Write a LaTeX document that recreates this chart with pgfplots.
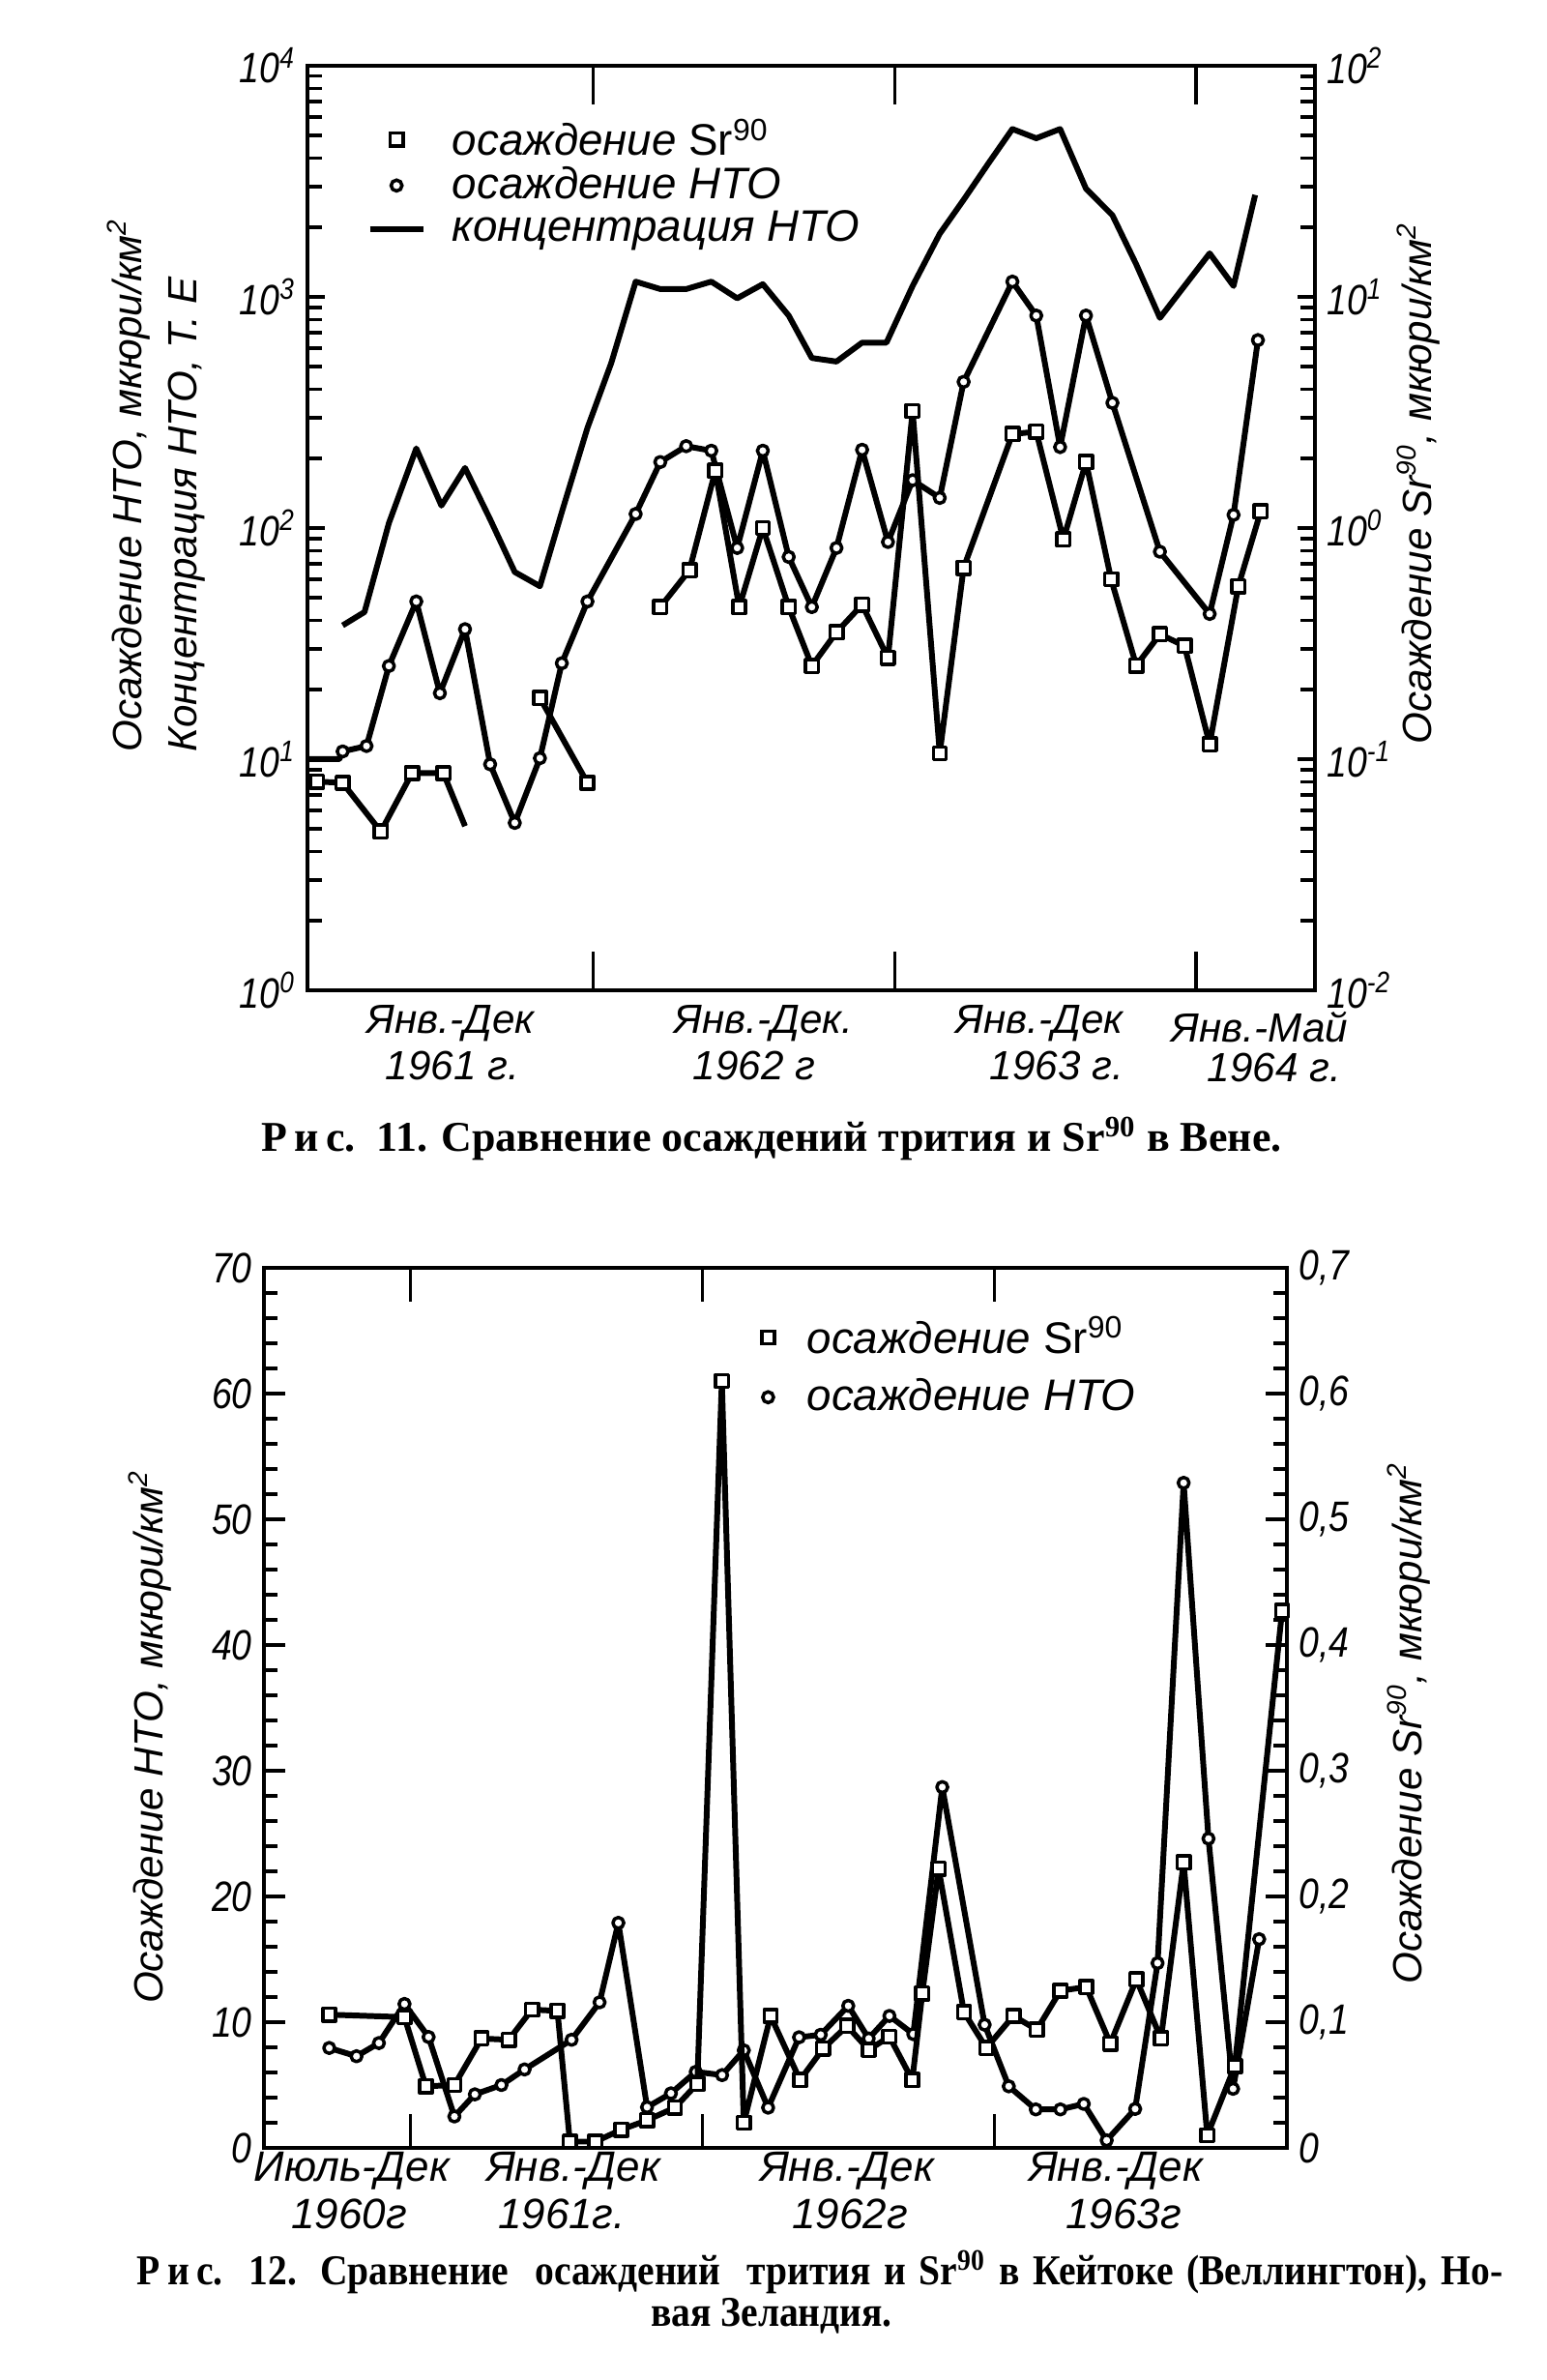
\documentclass[border=0pt]{standalone}
\usepackage{pgfplots}
\pgfplotsset{compat=1.18}
\usepackage{fontspec}
\setmainfont{Liberation Sans}
\newfontfamily\tickfont{Liberation Sans}[FakeStretch=0.85]
\newfontfamily\capfont{Liberation Serif}
\newfontfamily\capfontb{Liberation Serif}[FakeStretch=0.9]
\pgfplotsset{
  base/.style={scale only axis, axis line style={line width=1.3pt}, tick style={black,line width=0.9pt},
    tick align=inside, ticklabel style={font=\tickfont\itshape\fontsize{12.5}{12.5}\selectfont},
    /pgf/number format/assume math mode=true, clip=false},
  ln/.style={black, line width=1.7pt, line join=round},
  sq/.style={mark=square*, mark size=1.9pt, mark options={solid, fill=white, draw=black, line width=1pt}},
  ci/.style={mark=*, mark size=1.6pt, mark options={solid, fill=white, draw=black, line width=1pt}},
  markleg/.style 2 args={legend image code/.code={\draw[##1] plot coordinates {(#1,0cm)};\path[draw=none,fill=none] (0cm,0cm) -- (#2,0cm);}},
  lineleg/.style 2 args={legend image code/.code={\draw[##1] (0cm,0cm) -- (#1,0cm);\path[draw=none,fill=none] (0cm,0cm) -- (#2,0cm);}},
}
\begin{document}
\begin{tikzpicture}
\path[use as bounding box] (0,0) rectangle (16,24.61);
% ================= TOP CHART =================
\begin{axis}[base, at={(3.18cm,14.37cm)}, anchor=south west, width=10.42cm, height=9.56cm,
  xmin=0.64, xmax=40.73, ymode=log, ymin=1, ymax=10000,
  xtick=\empty, minor xtick={1,...,40}, extra x ticks={12,24,36}, extra x tick labels={},
  extra x tick style={major tick length=0.4cm},
  ytick={1,10,100,1000,10000},
  yticklabels={{10\textsuperscript{0}},{10\textsuperscript{1}},{10\textsuperscript{2}},{10\textsuperscript{3}},{10\textsuperscript{4}}},
  minor ytick={2,3,4,5,6,7,8,9,20,30,40,50,60,70,80,90,200,300,400,500,600,700,800,900,2000,3000,4000,5000,6000,7000,8000,9000},
  ytick pos=left, major tick length=0.18cm, minor tick length=0.15cm]
% HTO deposition (circles)
\addplot[ln] coordinates {(0.64,10)(1.91,10)(2.04,10.8)};
\addplot[ln, ci] coordinates {(2.04,10.8)(2.99,11.4)(3.88,25.3)(4.97,48.1)(5.91,19.3)(6.91,36.5)(7.91,9.5)(8.89,5.3)(9.89,10.1)(10.76,26.0)(11.78,48.1)(13.70,115)(14.68,193)(15.71,226)(16.71,216)(17.74,82)(18.76,216)(19.79,75)(20.71,45.5)(21.69,82)(22.71,218)(23.74,87)(24.72,161)(25.80,135)(26.75,429)(28.69,1164)(29.64,830)(30.59,224)(31.62,830)(32.67,348)(34.56,79)(36.54,42.5)(37.49,114)(38.46,650)};
% HTO concentration (line)
\addplot[ln] coordinates {(2.04,37.9)(2.91,43.3)(3.88,105)(4.97,221)(5.97,125)(6.91,182)(7.91,109)(8.89,64.5)(9.89,56)(10.76,117)(11.78,271)(12.73,518)(13.70,1164)(14.68,1081)(15.71,1081)(16.71,1164)(17.74,986)(18.76,1135)(19.79,830)(20.71,544)(21.69,525)(22.71,634)(23.68,634)(24.72,1115)(25.80,1876)(26.75,2630)(27.75,3800)(28.69,5325)(29.64,4855)(30.59,5325)(31.62,2937)(32.67,2256)(33.62,1381)(34.56,811)(35.54,1115)(36.54,1543)(37.49,1115)(38.35,2761)};
\end{axis}
\begin{axis}[base, at={(3.18cm,14.37cm)}, anchor=south west, width=10.42cm, height=9.56cm,
  xmin=0.64, xmax=40.73, hide x axis, axis y line*=right, ymode=log, ymin=0.01, ymax=100,
  ytick={0.01,0.1,1,10,100},
  yticklabels={{10\textsuperscript{-2}},{10\textsuperscript{-1}},{10\textsuperscript{0}},{10\textsuperscript{1}},{10\textsuperscript{2}}},
  minor ytick={0.02,0.03,0.04,0.05,0.06,0.07,0.08,0.09,0.2,0.3,0.4,0.5,0.6,0.7,0.8,0.9,2,3,4,5,6,7,8,9,20,30,40,50,60,70,80,90},
  major tick length=0.18cm, minor tick length=0.15cm,
  legend style={at={(0.0585,0.949)}, anchor=north west, draw=none, fill=none, inner sep=0pt,
    row sep=-1pt, font=\itshape\fontsize{13}{13}\selectfont, legend cell align=left,
    nodes={inner sep=1.5pt}}]
% Sr-90 deposition (squares)
\addplot[ln, sq, mark indices={1,2,3,4,5}, forget plot] coordinates {(1.02,0.080)(2.04,0.079)(3.56,0.0486)(4.80,0.087)(6.05,0.087)(6.91,0.0513)};
\addplot[ln, sq, forget plot] coordinates {(9.89,0.184)(11.78,0.079)};
\addplot[ln, sq, forget plot] coordinates {(14.68,0.455)(15.84,0.657)(16.87,1.77)(17.82,0.455)(18.76,1.00)(19.79,0.455)(20.71,0.253)(21.69,0.354)(22.71,0.466)(23.74,0.274)(24.72,3.21)(25.80,0.106)(26.75,0.673)(28.69,2.55)(29.64,2.61)(30.72,0.893)(31.62,1.93)(32.62,0.60)(33.62,0.254)(34.56,0.347)(35.54,0.309)(36.54,0.116)(37.68,0.56)(38.57,1.18)};
\addlegendimage{only marks, sq, markleg={0.275cm}{0.8cm}}
\addlegendentry{осаждение {\upshape Sr\textsuperscript{90}}}
\addlegendimage{only marks, ci, markleg={0.275cm}{0.8cm}}
\addlegendentry{осаждение НТО}
\addlegendimage{ln, lineleg={0.55cm}{0.8cm}}
\addlegendentry{концентрация НТО}
\end{axis}
% top labels
\node[rotate=90, anchor=west, font=\itshape\fontsize{12}{12}\selectfont] at (1.33,16.71) {Осаждение НТО, мкюри/км\textsuperscript{2}};
\node[rotate=90, anchor=west, font=\itshape\fontsize{12}{12}\selectfont] at (1.93,16.71) {Концентрация НТО, Т. Е};
\node[rotate=90, font=\itshape\fontsize{12}{12}\selectfont] at (14.67,19.61) {Осаждение Sr\textsuperscript{90}, мкюри/км\textsuperscript{2}};
\begin{scope}[every node/.style={font=\itshape\fontsize{12}{12}\selectfont}]
\node at (4.66,14.03) {Янв.-Дек}; \node at (4.68,13.59) {1961 г.};
\node at (7.90,14.03) {Янв.-Дек.}; \node at (7.80,13.59) {1962 г};
\node at (10.75,14.03) {Янв.-Дек}; \node at (10.93,13.59) {1963 г.};
\node at (13.03,13.99) {Янв.-Май}; \node at (13.18,13.57) {1964 г.};
\end{scope}
\node[anchor=base, font=\capfont\bfseries\fontsize{12.5}{12.5}\selectfont] at (7.98,12.70) {Р\,и\,с.\ \ 11. Сравнение осаждений трития и Sr\textsuperscript{90} в Вене.};
% ================= BOTTOM CHART =================
\begin{axis}[base, at={(2.73cm,2.40cm)}, anchor=south west, width=10.58cm, height=9.10cm,
  xmin=6, xmax=48, ymin=0, ymax=70,
  xtick=\empty, minor xtick={7,...,47}, extra x ticks={12,24,36}, extra x tick labels={},
  extra x tick style={major tick length=0.35cm},
  ytick={0,10,...,70}, minor ytick={2,4,6,8,12,14,16,18,22,24,26,28,32,34,36,38,42,44,46,48,52,54,56,58,62,64,66,68},
  ytick pos=left, major tick length=0.22cm, minor tick length=0.14cm]
\addplot[ln, ci] coordinates {(8.68,7.95)(9.80,7.29)(10.72,8.34)(11.77,11.45)(12.76,8.82)(13.82,2.5)(14.66,4.26)(15.75,5.0)(16.70,6.24)(18.63,8.6)(19.78,11.58)(20.55,17.9)(21.73,3.24)(22.71,4.34)(23.73,6.05)(24.81,5.79)(25.70,7.76)(26.70,3.2)(27.97,8.8)(28.86,9.0)(29.99,11.3)(30.83,8.7)(31.68,10.5)(32.66,9.05)(33.85,28.7)(35.59,9.8)(36.58,4.9)(37.69,3.06)(38.70,3.06)(39.66,3.5)(40.6,0.6)(41.77,3.1)(42.69,14.7)(43.76,52.9)(44.78,24.6)(45.79,4.7)(46.86,16.6)};
\end{axis}
\begin{axis}[base, at={(2.73cm,2.40cm)}, anchor=south west, width=10.58cm, height=9.10cm,
  xmin=6, xmax=48, ymin=0, ymax=0.7, hide x axis, axis y line*=right,
  ytick={0,0.1,0.2,0.3,0.4,0.5,0.6,0.7}, yticklabels={0,{0,1},{0,2},{0,3},{0,4},{0,5},{0,6},{0,7}},
  minor ytick={0.02,0.04,0.06,0.08,0.12,0.14,0.16,0.18,0.22,0.24,0.26,0.28,0.32,0.34,0.36,0.38,0.42,0.44,0.46,0.48,0.52,0.54,0.56,0.58,0.62,0.64,0.66,0.68},
  major tick length=0.22cm, minor tick length=0.14cm,
  legend style={at={(0.478,0.951)}, anchor=north west, draw=none, fill=none, inner sep=0pt,
    row sep=3pt, font=\itshape\fontsize{13}{13}\selectfont, legend cell align=left,
    nodes={inner sep=1.5pt}}]
\addplot[ln, sq, forget plot] coordinates {(8.68,0.106)(11.77,0.104)(12.65,0.049)(13.82,0.050)(14.93,0.087)(16.05,0.086)(17.0,0.110)(18.05,0.109)(18.56,0.005)(19.61,0.005)(20.67,0.0145)(21.73,0.022)(22.87,0.032)(23.79,0.051)(24.8,0.61)(25.70,0.020)(26.8,0.105)(28.01,0.054)(28.96,0.079)(29.94,0.097)(30.83,0.078)(31.68,0.0885)(32.62,0.054)(33.03,0.123)(33.70,0.222)(34.74,0.108)(35.66,0.0795)(36.77,0.105)(37.73,0.094)(38.70,0.125)(39.76,0.128)(40.75,0.083)(41.82,0.134)(42.83,0.087)(43.76,0.227)(44.73,0.010)(45.86,0.065)(47.8,0.427)};
\addlegendimage{only marks, sq, markleg={0.15cm}{0.5cm}}
\addlegendentry{осаждение {\upshape Sr\textsuperscript{90}}}
\addlegendimage{only marks, ci, markleg={0.15cm}{0.5cm}}
\addlegendentry{осаждение НТО}
\end{axis}
\node[rotate=90, font=\itshape\fontsize{12}{12}\selectfont] at (1.55,6.65) {Осаждение НТО, мкюри/км\textsuperscript{2}};
\node[rotate=90, font=\itshape\fontsize{12}{12}\selectfont] at (14.57,6.79) {Осаждение Sr\textsuperscript{90}, мкюри/км\textsuperscript{2}};
\begin{scope}[every node/.style={font=\itshape\fontsize{12.5}{12.5}\selectfont}]
\node at (3.64,2.16) {Июль-Дек}; \node at (3.61,1.72) {1960г};
\node at (5.93,2.16) {Янв.-Дек}; \node at (5.81,1.72) {1961г.};
\node at (8.76,2.16) {Янв.-Дек}; \node at (8.79,1.72) {1962г};
\node at (11.54,2.16) {Янв.-Дек}; \node at (11.62,1.72) {1963г};
\end{scope}
\node[anchor=base west, inner sep=0pt, font=\capfontb\bfseries\fontsize{12.5}{12.5}\selectfont] at (1.41,0.98) {\makebox[14.13cm][s]{Р\,и\,с.\ \ 12. Сравнение\ \ осаждений\ \ трития и Sr\textsuperscript{90} в Кейтоке (Веллингтон), Но-}};
\node[anchor=base, font=\capfontb\bfseries\fontsize{12.5}{12.5}\selectfont] at (7.98,0.55) {вая Зеландия.};
\end{tikzpicture}
\end{document}
